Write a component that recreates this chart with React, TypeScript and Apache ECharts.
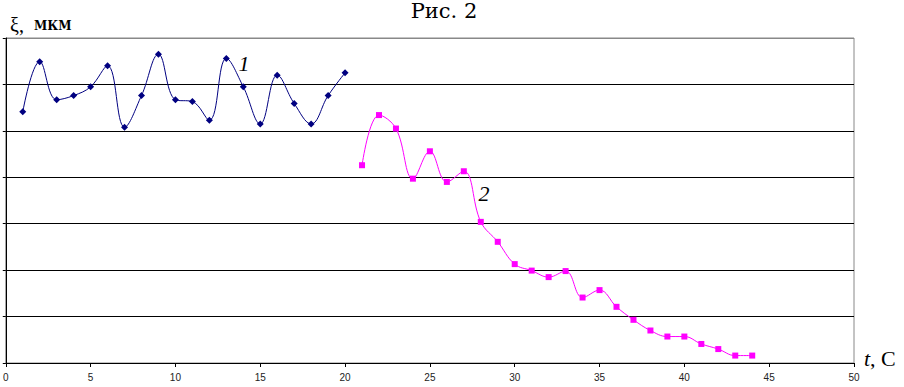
import React, { useEffect, useRef } from "react";
import * as echarts from "echarts";

const xTicks = [0, 5, 10, 15, 20, 25, 30, 35, 40, 45, 50];
const series1X = [1, 2, 3, 4, 5, 6, 7, 8, 9, 10, 11, 12, 13, 14, 15, 16, 17, 18, 19, 20];
const series1Y = [5.41, 6.49, 5.67, 5.76, 5.95, 6.4, 5.08, 5.76, 6.65, 5.67, 5.63, 5.23, 6.56, 5.95, 5.15, 6.2, 5.59, 5.15, 5.76, 6.25];
const series2X = [21, 22, 23, 24, 25, 26, 27, 28, 29, 30, 31, 32, 33, 34, 35, 36, 37, 38, 39, 40, 41, 42, 43, 44];
const series2Y = [4.26, 5.34, 5.05, 3.97, 4.56, 3.9, 4.13, 3.04, 2.61, 2.13, 1.99, 1.85, 1.98, 1.41, 1.57, 1.21, 0.93, 0.7, 0.57, 0.57, 0.41, 0.3, 0.16, 0.16];
const seriesNames = ["1", "2"];
const titleText = "Рис. 2";
const yLabel = "МКМ";

export default function App() {
  const ref = useRef<HTMLDivElement>(null);
  useEffect(() => {
    if (!ref.current) return;
    const chart = echarts.init(ref.current, null, { renderer: "svg" });
    const d1 = series1X.map((x, i) => [x, series1Y[i]]);
    const d2 = series2X.map((x, i) => [x, series2Y[i]]);
    const serif = "Liberation Serif";
    const serifCyr = "DejaVu Serif";
    chart.setOption({
      animation: false,
      backgroundColor: "#fff",
      grid: {
        left: 4,
        right: 50,
        top: 38,
        bottom: 24,
        show: true,
        borderColor: "#888",
        borderWidth: 1,
        backgroundColor: "transparent",
      },
      xAxis: {
        type: "value",
        min: 0,
        max: 50,
        interval: 5,
        axisLine: { show: true, lineStyle: { color: "#000", width: 1 } },
        axisTick: { show: true, length: 4, inside: false, lineStyle: { color: "#000" } },
        axisLabel: {
          show: true,
          margin: 9,
          fontFamily: "Liberation Sans",
          fontSize: 10,
          color: "#222",
          formatter: (v: number) => (xTicks.includes(v) ? String(v) : ""),
        },
        splitLine: { show: false },
      },
      yAxis: {
        type: "value",
        min: 0,
        max: 7,
        interval: 1,
        axisLine: { show: true, lineStyle: { color: "#000", width: 1 } },
        axisTick: { show: true, length: 3, inside: false, lineStyle: { color: "#000" } },
        axisLabel: { show: false },
        splitLine: {
          show: true,
          lineStyle: { color: ["#000", "#000", "#000", "#000", "#000", "#000", "#000", "#888"], width: 1 },
        },
      },
      series: [
        {
          name: seriesNames[0],
          type: "line",
          data: d1,
          smooth: 0.4,
          symbol: "diamond",
          symbolSize: 7,
          lineStyle: { color: "#000080", width: 1 },
          itemStyle: { color: "#000080" },
        },
        {
          name: seriesNames[1],
          type: "line",
          data: d2,
          smooth: 0.4,
          symbol: "rect",
          symbolSize: 6,
          lineStyle: { color: "#FF00FF", width: 1 },
          itemStyle: { color: "#FF00FF" },
        },
      ],
      graphic: [
        {
          type: "text",
          x: 444,
          y: 0,
          style: {
            text: titleText,
            fontFamily: serifCyr,
            fontSize: 21,
            fill: "#000",
            align: "center",
            verticalAlign: "top",
          },
        },
        {
          type: "text",
          x: 10,
          y: 35,
          style: { text: "ξ,", fontFamily: serif, fontSize: 20, fill: "#000", verticalAlign: "bottom" },
        },
        {
          type: "text",
          x: 34,
          y: 32,
          style: { text: yLabel, fontFamily: serifCyr, fontWeight: "bold", fontSize: 12, fill: "#000", verticalAlign: "bottom" },
        },
        {
          type: "text",
          x: 244,
          y: 74,
          style: { text: seriesNames[0], fontFamily: serif, fontStyle: "italic", fontSize: 22, fill: "#000", align: "center", verticalAlign: "bottom" },
        },
        {
          type: "text",
          x: 484,
          y: 204,
          style: { text: seriesNames[1], fontFamily: serif, fontStyle: "italic", fontSize: 22, fill: "#000", align: "center", verticalAlign: "bottom" },
        },
        {
          type: "text",
          x: 864,
          y: 369,
          style: {
            text: "{t|t}{c|, С}",
            verticalAlign: "bottom",
            rich: {
              t: { fontFamily: serif, fontStyle: "italic", fontSize: 22, fill: "#000" },
              c: { fontFamily: serif, fontSize: 22, fill: "#000" },
            },
          },
        },
      ],
    });
    return () => chart.dispose();
  }, []);
  return (
    <div
      ref={ref}
      style={{ position: "fixed", left: 0, top: 0, width: 904, height: 387 }}
    />
  );
}
